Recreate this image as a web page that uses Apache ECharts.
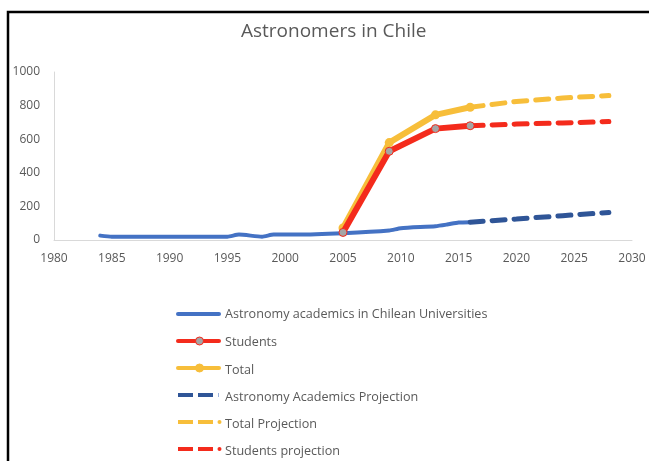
<!DOCTYPE html>
<html>
<head>
<meta charset="utf-8">
<script src="https://cdn.jsdelivr.net/npm/echarts@6/dist/echarts.min.js"></script>
<style>
html,body{margin:0;padding:0;background:#fff;}
#chart{width:649px;height:461px;}
</style>
</head>
<body>
<div id="chart"></div>
<script>
var academicsYears = [1984, 1985, 1990, 1995, 1996, 1998, 1999, 2001, 2005, 2009, 2010, 2013, 2014, 2015, 2016];
var academicsValues = [26, 20, 20, 20, 32, 20, 32, 32, 40, 56, 70, 82, 92, 104, 106];
var studentsYears = [2005, 2009, 2013, 2016];
var studentsValues = [45, 528, 663, 680];
var totalYears = [2005, 2009, 2013, 2016];
var totalValues = [72, 580, 745, 790];
var projYears = [2016, 2020, 2024, 2028];
var academicsProj = [106, 125, 145, 164];
var totalProj = [790, 825, 845, 860];
var studentsProj = [680, 690, 697, 705];
var xTicks = [1980, 1985, 1990, 1995, 2000, 2005, 2010, 2015, 2020, 2025, 2030];
var legendNames = ['Astronomy academics in Chilean Universities', 'Students', 'Total',
  'Astronomy Academics Projection', 'Total Projection', 'Students projection'];

function pairs(xs, ys) { return xs.map(function (x, i) { return [x, ys[i]]; }); }

var BLUE = '#4472C4', RED = '#F42B1C', YEL = '#F7BE3A', DBLUE = '#2F5597', GRAY = '#A5A5A5';
var txt = '#595959';
var font = 'Open Sans';

// legend icons (decoration only)
var L0 = 176, L1 = 221, LY0 = 314, LSTEP = 27;
function solidIcon(i, color, marker, mfill) {
  var y = LY0 + i * LSTEP;
  var els = [{ type: 'line', shape: { x1: L0 + 2, y1: y, x2: L1 - 2, y2: y },
    style: { stroke: color, lineWidth: 4, lineCap: 'round' }, silent: true }];
  if (marker) {
    els.push({ type: 'circle', shape: { cx: (L0 + L1) / 2 + 1, cy: y, r: 4 },
      style: { fill: mfill, stroke: color, lineWidth: 1 }, silent: true });
  }
  return els;
}
function dashIcon(i, color, dot) {
  var y = LY0 + i * LSTEP;
  var els = [
    { type: 'line', shape: { x1: 178, y1: y, x2: 193, y2: y }, style: { stroke: color, lineWidth: 4 }, silent: true },
    { type: 'line', shape: { x1: 198, y1: y, x2: 213, y2: y }, style: { stroke: color, lineWidth: 4 }, silent: true }
  ];
  if (dot) {
    els.push({ type: 'circle', shape: { cx: 219.5, cy: y, r: 2 }, style: { fill: color }, silent: true });
  } else {
    els.push({ type: 'line', shape: { x1: 218.5, y1: y - 2, x2: 218.5, y2: y + 2 }, style: { stroke: '#9DB3DB', lineWidth: 1 }, silent: true });
  }
  return els;
}
var legendIcons = [].concat(
  solidIcon(0, BLUE, false),
  solidIcon(1, RED, true, GRAY),
  solidIcon(2, YEL, true, YEL),
  dashIcon(3, DBLUE, false),
  dashIcon(4, YEL, true),
  dashIcon(5, RED, true)
);

var chart = echarts.init(document.getElementById('chart'));
chart.setOption({
  animation: false,
  backgroundColor: '#fff',
  title: {
    text: 'Astronomers in Chile',
    left: 241,
    top: 22,
    padding: 0,
    textStyle: { fontFamily: font, fontSize: 19, fontWeight: 'normal', color: txt }
  },
  graphic: [{
    type: 'polyline',
    shape: { points: [[8, 470], [8, 12], [660, 12]] },
    style: { stroke: '#000', lineWidth: 2.5, fill: null },
    silent: true
  }].concat(legendIcons),
  grid: { left: 54, right: 17, top: 72, bottom: 221, containLabel: false },
  xAxis: {
    type: 'value',
    min: xTicks[0],
    max: xTicks[xTicks.length - 1],
    interval: 5,
    axisLine: { show: true, lineStyle: { color: '#D9D9D9', width: 1 } },
    axisTick: { show: false },
    splitLine: { show: false },
    axisLabel: { color: txt, fontFamily: font, fontSize: 12, margin: 13,
      formatter: function (v) { return String(v); } }
  },
  yAxis: {
    type: 'value',
    min: 0,
    max: 1000,
    interval: 200,
    axisLine: { show: true, lineStyle: { color: '#D9D9D9', width: 1 } },
    axisTick: { show: false },
    splitLine: { show: false },
    axisLabel: { color: txt, fontFamily: font, fontSize: 12, margin: 14,
      formatter: function (v) { return String(v); } }
  },
  legend: {
    orient: 'vertical',
    left: 176,
    top: 307,
    padding: 0,
    itemGap: 13,
    itemWidth: 46,
    itemHeight: 14,
    icon: 'rect',
    itemStyle: { opacity: 0 },
    lineStyle: { opacity: 0 },
    textStyle: { color: txt, fontFamily: font, fontSize: 12.6, padding: [0, 0, 0, -3] },
    data: legendNames
  },
  series: [
    {
      name: legendNames[0],
      type: 'line',
      data: pairs(academicsYears, academicsValues),
      symbol: 'none',
      smooth: 0.2,
      lineStyle: { color: BLUE, width: 4, cap: 'round' },
      itemStyle: { color: BLUE }
    },
    {
      name: legendNames[1],
      type: 'line',
      data: pairs(studentsYears, studentsValues),
      symbol: 'circle',
      symbolSize: 8,
      lineStyle: { color: RED, width: 6, cap: 'round' },
      itemStyle: { color: GRAY, borderColor: RED, borderWidth: 1 },
      z: 3
    },
    {
      name: legendNames[2],
      type: 'line',
      data: pairs(totalYears, totalValues),
      symbol: 'circle',
      symbolSize: 9,
      lineStyle: { color: YEL, width: 6, cap: 'round' },
      itemStyle: { color: YEL },
      z: 2
    },
    {
      name: legendNames[3],
      type: 'line',
      data: pairs(projYears, academicsProj),
      symbol: 'none',
      lineStyle: { color: DBLUE, width: 5, type: [13, 9], cap: 'round' },
      itemStyle: { color: DBLUE }
    },
    {
      name: legendNames[4],
      type: 'line',
      data: pairs(projYears, totalProj),
      symbol: 'none',
      lineStyle: { color: YEL, width: 5, type: [13, 9], cap: 'round' },
      itemStyle: { color: YEL }
    },
    {
      name: legendNames[5],
      type: 'line',
      data: pairs(projYears, studentsProj),
      symbol: 'none',
      lineStyle: { color: RED, width: 5, type: [13, 9], cap: 'round' },
      itemStyle: { color: RED }
    }
  ]
});
</script>
</body>
</html>
